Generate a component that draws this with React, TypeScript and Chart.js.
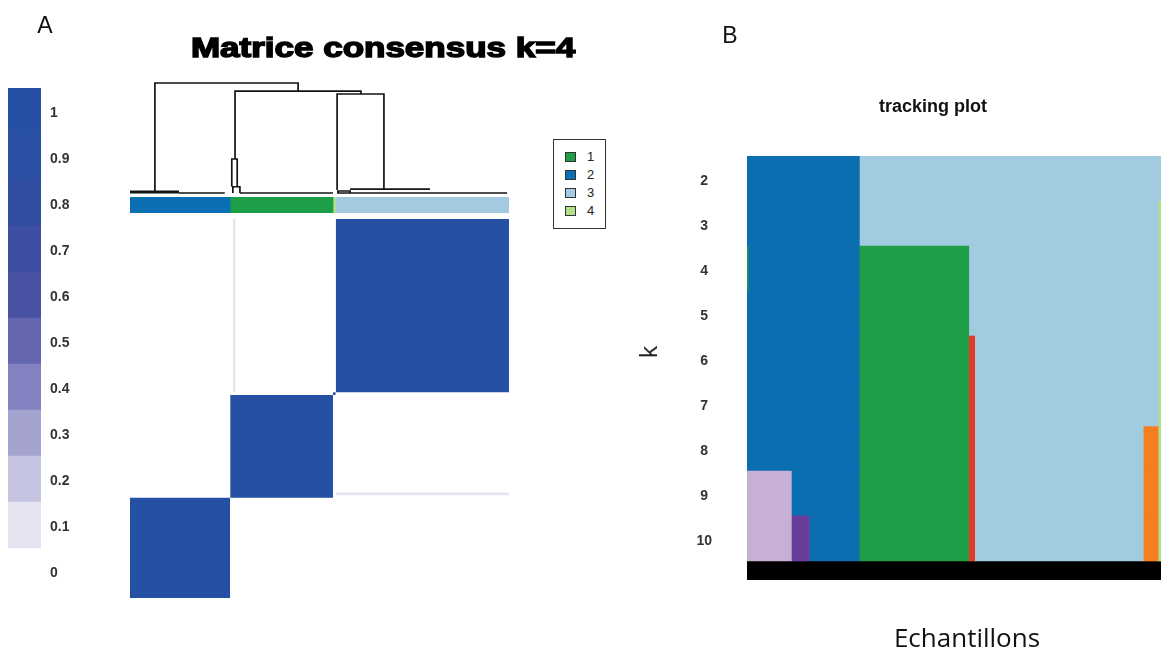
import React, { useEffect, useRef } from "react";
import { Chart, registerables } from "chart.js";

Chart.register(...registerables);
Chart.defaults.font.family = "'Liberation Sans', Arial, Helvetica, sans-serif";

const W = 1163;
const H = 652;

// ---------- Panel A : colour key ----------
const keyBlockColors = ["#e4e4f1", "#c5c4e0", "#a4a3cf", "#8381c0", "#6466b0", "#4a52a4", "#3e4ea1", "#324ea2", "#2a4fa3", "#2550a3"];
const keyStep = 0.1;
const keyTickValues = [0, 0.1, 0.2, 0.3, 0.4, 0.5, 0.6, 0.7, 0.8, 0.9, 1];
const keyTickLabels = ["0", "0.1", "0.2", "0.3", "0.4", "0.5", "0.6", "0.7", "0.8", "0.9", "1"];

// ---------- Panel A : clusters (k = 4), in dendrogram order ----------
const clusterIds = ["2", "1", "4", "3"];
const clusterSizes = [37, 38, 1, 64];
const clusterColor: Record<string, string> = { "1": "#1f9e48", "2": "#0b6fb3", "3": "#a2cbe2", "4": "#b2df8a" };
const legendIds = ["1", "2", "3", "4"];
const withinConsensus = [1, 1, 1, 1];
const weakSamples = [38];
const weakTargets = ["3"];
const weakValues = [0.1];

// dendrogram merges: [x left, y left end, x right, y right end, merge height]
const dendroMerges = [
  [9.2, 0.009, 62.1, 0.927, 1.0],
  [38.8, 0.309, 85.3, 0.9, 0.927],
  [76.5, 0.027, 93.8, 0.036, 0.9],
  [37.6, 0.057, 39.6, 0.057, 0.309],
  [38.0, 0, 40.6, 0, 0.057],
  [76.8, 0, 81.3, 0, 0.018],
];
// runs of leaves merged at (almost) zero height: [x start, x end, height]
const dendroRuns = [
  [18.1, 35, 0],
  [40.6, 75, 0],
  [76.5, 139.3, 0],
  [81.3, 110.8, 0.036],
];
// dense run of leaves (drawn heavier): [x start, x end, height]
const dendroDenseRuns = [[0, 18.1, 0.009]];

// ---------- Panel B : tracking plot ----------
const kValues = [2, 3, 4, 5, 6, 7, 8, 9, 10];
const trackLavender = [null, null, null, null, null, null, null, [0, 15], [0, 15]];
const trackPurple = [null, null, null, null, null, null, null, null, [15, 21]];
const trackBlue = [[0, 38], [0, 38], [0.6, 38], [0, 38], [0, 38], [0, 38], [0, 38], [15, 38], [21, 38]];
const trackGreenEdge = [null, null, [0, 0.6], null, null, null, null, null, null];
const trackGreen = [null, null, [38, 75], [38, 75], [38, 75], [38, 75], [38, 75], [38, 75], [38, 75]];
const trackRed = [null, null, null, null, [75, 77], [75, 77], [75, 77], [75, 77], [75, 77]];
const trackLightBlue = [[38, 140], [38, 139], [75, 139], [75, 139], [77, 139], [77, 139], [77, 134], [77, 134], [77, 134]];
const trackOrange = [null, null, null, null, null, null, [134, 139], [134, 139], [134, 139]];
const trackLightGreen = [null, [139, 140], [139, 140], [139, 140], [139, 140], [139, 140], [139, 140], [139, 140], [139, 140]];
const trackBase = [0, 140];
const trackBaseK = 10.711;

const trackSeries = [
  { name: "lavender", color: "#c7b0d6", spans: trackLavender },
  { name: "purple", color: "#6a3d9a", spans: trackPurple },
  { name: "blue", color: "#0b6eb1", spans: trackBlue },
  { name: "greenEdge", color: "#1f9e48", spans: trackGreenEdge },
  { name: "green", color: "#1f9e48", spans: trackGreen },
  { name: "red", color: "#e63b22", spans: trackRed },
  { name: "lightblue", color: "#a1cbe1", spans: trackLightBlue },
  { name: "orange", color: "#f47e20", spans: trackOrange },
  { name: "lightgreen", color: "#b2df8a", spans: trackLightGreen },
];

// ---------- helpers ----------
function area(left: number, top: number, right: number, bottom: number) {
  return { left, top, right: W - right, bottom: H - bottom };
}

function baseOptions(padding: any) {
  return {
    responsive: false,
    maintainAspectRatio: false,
    animation: false,
    devicePixelRatio: 1,
    events: [],
    layout: { padding },
    plugins: { legend: { display: false }, tooltip: { enabled: false }, title: { display: false } },
  };
}

function valueColor(v: number) {
  const idx = Math.max(0, Math.min(keyBlockColors.length - 1, Math.ceil(v / keyStep - 1e-9) - 1));
  return keyBlockColors[idx];
}

function clusterBounds() {
  const starts: number[] = [];
  const ends: number[] = [];
  let acc = 0;
  clusterSizes.forEach((n) => {
    starts.push(acc);
    acc += n;
    ends.push(acc);
  });
  return { starts, ends, total: acc };
}

function rectDataset(x0: number, x1: number, y0: number, y1: number, color: string) {
  return {
    data: [
      { x: x0, y: y1 },
      { x: x1, y: y1 },
    ],
    fill: { value: y0 },
    backgroundColor: color,
    borderColor: "rgba(0,0,0,0)",
    borderWidth: 0,
    pointRadius: 0,
    pointHoverRadius: 0,
    tension: 0,
  };
}

// ---------- chart configs ----------
function keyConfig(): any {
  return {
    type: "bar",
    data: {
      labels: ["key"],
      datasets: keyBlockColors.map((c) => ({
        data: [keyStep],
        backgroundColor: c,
        borderWidth: 0,
        barPercentage: 1,
        categoryPercentage: 1,
      })),
    },
    options: {
      ...baseOptions(area(8, 88, 80, 594)),
      scales: {
        x: { display: false, stacked: true },
        y: {
          position: "right",
          stacked: true,
          min: -0.1,
          max: 1,
          offset: false,
          grid: { display: false, drawTicks: false },
          border: { display: false },
          afterFit: (s: any) => {
            s.width = 39;
          },
          afterBuildTicks: (s: any) => {
            s.ticks = keyTickValues.map((v) => ({ value: v - keyStep / 2 }));
          },
          ticks: {
            padding: 9,
            labelOffset: 2,
            autoSkip: false,
            color: "#333",
            font: { size: 14, weight: "bold" },
            callback: (_v: any, i: number) => keyTickLabels[i],
          },
        },
      },
    },
  };
}

function dendroConfig(): any {
  const pts: any[] = [];
  dendroMerges.forEach(([xl, yl, xr, yr, h]) => {
    pts.push({ x: xl, y: yl }, { x: xl, y: h }, { x: xr, y: h }, { x: xr, y: yr }, { x: xr, y: null });
  });
  dendroRuns.forEach(([a, b, h]) => {
    pts.push({ x: a, y: h }, { x: b, y: h }, { x: b, y: null });
  });
  const dense: any[] = [];
  dendroDenseRuns.forEach(([a, b, h]) => {
    dense.push({ x: a, y: h }, { x: b, y: h }, { x: b, y: null });
  });
  const { total } = clusterBounds();
  const line = {
    borderColor: "#141414",
    pointRadius: 0,
    spanGaps: false,
    tension: 0,
    fill: false,
    clip: false,
  };
  return {
    type: "line",
    data: {
      datasets: [
        { ...line, data: pts, borderWidth: 1.7 },
        { ...line, data: dense, borderWidth: 3 },
      ],
    },
    options: {
      ...baseOptions(area(130, 83, 509, 193)),
      scales: {
        x: { type: "linear", min: 0, max: total, display: false },
        y: { type: "linear", min: 0, max: 1, display: false },
      },
    },
  };
}

function annotationConfig(): any {
  const { total } = clusterBounds();
  return {
    type: "bar",
    data: {
      labels: ["k=4"],
      datasets: clusterIds.map((id, i) => ({
        data: [clusterSizes[i]],
        backgroundColor: clusterColor[id],
        borderWidth: 0,
        barPercentage: 1,
        categoryPercentage: 1,
      })),
    },
    options: {
      ...baseOptions(area(130, 197, 509, 213)),
      indexAxis: "y",
      scales: {
        x: { stacked: true, min: 0, max: total, display: false },
        y: { stacked: true, display: false },
      },
    },
  };
}

function heatmapConfig(): any {
  const { starts, ends, total } = clusterBounds();
  const sets: any[] = [];
  clusterIds.forEach((_id, i) => {
    sets.push(rectDataset(starts[i], ends[i], starts[i], ends[i], valueColor(withinConsensus[i])));
  });
  weakSamples.forEach((s, j) => {
    const t = clusterIds.indexOf(weakTargets[j]);
    const c = valueColor(weakValues[j]);
    sets.push(rectDataset(s, s + 1, starts[t], ends[t], c));
    sets.push(rectDataset(starts[t], ends[t], s, s + 1, c));
  });
  return {
    type: "line",
    data: { datasets: sets },
    options: {
      ...baseOptions(area(130, 219, 509, 598)),
      scales: {
        x: { type: "linear", min: 0, max: total, display: false },
        y: { type: "linear", min: 0, max: total, display: false },
      },
    },
  };
}

function trackingConfig(): any {
  const datasets: any[] = trackSeries.map((s) => ({
    label: s.name,
    data: s.spans
      .map((sp, i) => (sp ? { y: kValues[i], x: sp } : null))
      .filter((d) => d !== null),
    backgroundColor: s.color,
    borderWidth: 0,
    grouped: false,
    barPercentage: 1,
    categoryPercentage: 1,
    yAxisID: "y",
  }));
  datasets.push({
    label: "base",
    data: [{ y: trackBaseK, x: trackBase }],
    backgroundColor: "#000000",
    borderWidth: 0,
    grouped: false,
    barThickness: 19,
    yAxisID: "yb",
  });
  const yMin = 1.5;
  const yMax = 10.922;
  return {
    type: "bar",
    data: { datasets },
    options: {
      ...baseOptions(area(747 - 60, 156, 1161, 580)),
      indexAxis: "y",
      scales: {
        x: { type: "linear", min: 0, max: 140, display: false },
        y: {
          type: "linear",
          position: "left",
          reverse: true,
          min: yMin,
          max: yMax,
          offset: false,
          grid: { display: false, drawTicks: false },
          border: { display: false },
          afterFit: (s: any) => {
            s.width = 60;
          },
          afterBuildTicks: (s: any) => {
            s.ticks = kValues.map((v) => ({ value: v }));
          },
          ticks: {
            crossAlign: "center",
            padding: 35,
            labelOffset: 3,
            autoSkip: false,
            color: "#333",
            font: { size: 14, weight: "bold" },
            callback: (v: any) => String(v),
          },
        },
        yb: { type: "linear", reverse: true, min: yMin, max: yMax, offset: false, display: false },
      },
    },
  };
}

// ---------- components ----------
function ChartLayer({ make }: { make: () => any }) {
  const ref = useRef<HTMLCanvasElement>(null);
  useEffect(() => {
    const chart = new Chart(ref.current as HTMLCanvasElement, make());
    return () => chart.destroy();
  }, [make]);
  return (
    <canvas
      ref={ref}
      width={W}
      height={H}
      style={{ position: "absolute", left: 0, top: 0, width: W, height: H }}
    />
  );
}

function Text({ x, y, children, style }: { x: number; y: number; children: any; style?: any }) {
  return (
    <div
      style={{
        position: "absolute",
        left: x,
        top: y,
        transform: "translate(-50%, -50%)",
        whiteSpace: "nowrap",
        lineHeight: 1,
        fontFamily: "'Liberation Sans', Arial, sans-serif",
        color: "#111",
        ...style,
      }}
    >
      {children}
    </div>
  );
}

function Legend() {
  return (
    <div
      style={{
        position: "absolute",
        left: 553,
        top: 139,
        width: 51,
        height: 88,
        border: "1px solid #333",
        background: "#fff",
      }}
    >
      {legendIds.map((id, i) => (
        <div key={id} style={{ position: "absolute", left: 0, top: 12 + i * 18, height: 10, width: 51 }}>
          <div
            style={{
              position: "absolute",
              left: 11,
              top: 0,
              width: 9,
              height: 8,
              background: clusterColor[id],
              border: "1px solid #333",
            }}
          />
          <div
            style={{
              position: "absolute",
              left: 33,
              top: -2,
              fontFamily: "'Liberation Sans', Arial, sans-serif",
              fontSize: 13,
              lineHeight: "14px",
              color: "#222",
            }}
          >
            {id}
          </div>
        </div>
      ))}
    </div>
  );
}

export default function App() {
  return (
    <div
      style={{
        position: "absolute",
        left: 0,
        top: 0,
        width: W,
        height: H,
        background: "#ffffff",
        overflow: "hidden",
      }}
    >
      <ChartLayer make={keyConfig} />
      <ChartLayer make={dendroConfig} />
      <ChartLayer make={annotationConfig} />
      <ChartLayer make={heatmapConfig} />
      <ChartLayer make={trackingConfig} />
      <Legend />
      <Text x={45} y={25} style={{ fontSize: 23 }}>A</Text>
      <Text x={730} y={35} style={{ fontSize: 23 }}>B</Text>
      <Text
        x={383}
        y={48}
        style={{
          fontSize: 28,
          fontWeight: "bold",
          color: "#000",
          transform: "translate(-50%, -50%) scaleX(1.25)",
          WebkitTextStroke: "1.5px #000",
        }}
      >
        Matrice consensus k=4
      </Text>
      <Text x={933} y={105.5} style={{ fontSize: 18, fontWeight: "bold", color: "#111" }}>
        tracking plot
      </Text>
      <Text
        x={648}
        y={352}
        style={{ fontSize: 24, fontFamily: "'Open Sans', sans-serif", transform: "translate(-50%, -50%) rotate(-90deg)" }}
      >
        k
      </Text>
      <Text x={967} y={637} style={{ fontSize: 26, fontFamily: "'Open Sans', sans-serif", color: "#111" }}>
        Echantillons
      </Text>
    </div>
  );
}
